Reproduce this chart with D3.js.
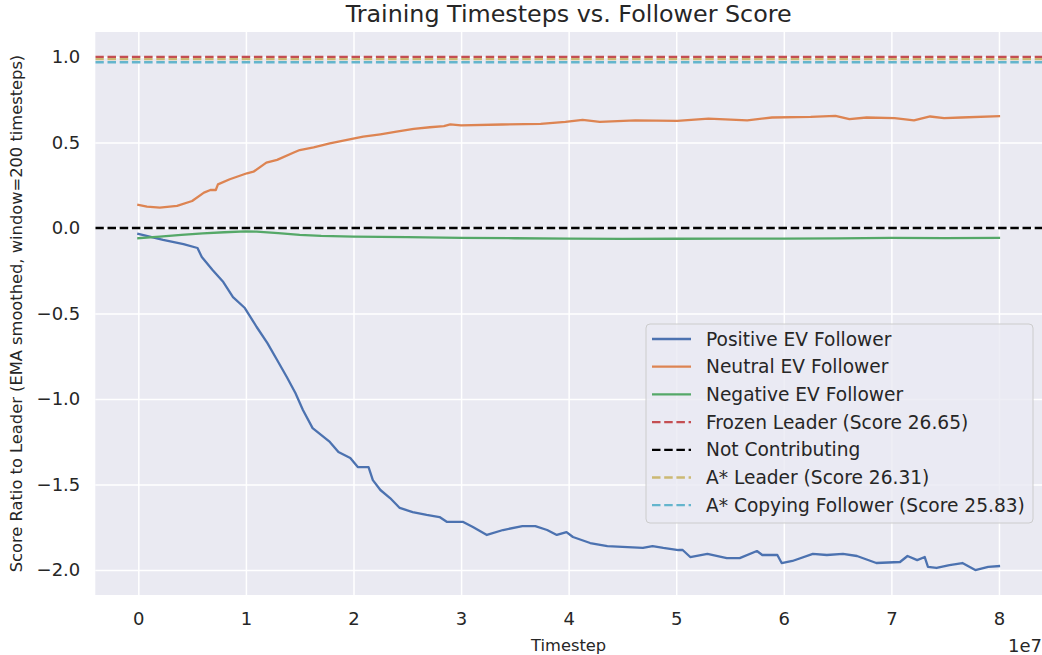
<!DOCTYPE html>
<html>
<head>
<meta charset="utf-8">
<script src="https://cdn.jsdelivr.net/npm/d3@7"></script>
<style>
  html, body { margin: 0; padding: 0; background: #ffffff; }
  svg { display: block; font-family: "DejaVu Sans", sans-serif; }
</style>
</head>
<body>
<svg id="chart" width="1042" height="655"></svg>
<script>
// ---- data (timesteps in units of 1e7) ----
const positiveT = [0.00,0.23,0.42,0.55,0.59,0.69,0.79,0.88,0.99,1.10,1.20,1.29,1.38,1.46,1.53,1.62,1.78,1.86,1.97,2.04,2.14,2.18,2.25,2.34,2.43,2.55,2.68,2.80,2.87,3.02,3.11,3.24,3.39,3.57,3.69,3.80,3.89,3.98,4.04,4.20,4.36,4.50,4.69,4.78,4.88,5.02,5.06,5.13,5.29,5.47,5.59,5.75,5.80,5.94,5.98,6.08,6.27,6.40,6.55,6.68,6.86,7.08,7.15,7.24,7.31,7.34,7.42,7.54,7.66,7.78,7.90,8.00];
const positiveV = [-0.035,-0.070,-0.094,-0.117,-0.170,-0.246,-0.316,-0.404,-0.468,-0.579,-0.673,-0.772,-0.871,-0.965,-1.064,-1.170,-1.251,-1.310,-1.345,-1.398,-1.398,-1.474,-1.532,-1.579,-1.637,-1.661,-1.678,-1.690,-1.719,-1.719,-1.749,-1.795,-1.766,-1.743,-1.743,-1.766,-1.795,-1.778,-1.807,-1.842,-1.860,-1.865,-1.871,-1.860,-1.871,-1.883,-1.883,-1.924,-1.906,-1.930,-1.930,-1.889,-1.912,-1.912,-1.959,-1.947,-1.906,-1.912,-1.906,-1.918,-1.959,-1.953,-1.918,-1.942,-1.924,-1.982,-1.988,-1.971,-1.959,-2.000,-1.982,-1.977];

const neutralT = [0.00,0.08,0.20,0.36,0.50,0.61,0.67,0.72,0.74,0.85,1.01,1.07,1.19,1.29,1.44,1.50,1.63,1.78,1.94,2.09,2.25,2.40,2.56,2.71,2.84,2.90,3.00,3.38,3.74,3.97,4.13,4.29,4.62,5.01,5.30,5.66,5.89,6.25,6.48,6.61,6.77,7.03,7.21,7.36,7.49,7.65,8.00];
const neutralV = [0.135,0.125,0.119,0.129,0.158,0.207,0.222,0.222,0.255,0.285,0.320,0.329,0.382,0.398,0.440,0.456,0.472,0.495,0.515,0.534,0.548,0.563,0.579,0.589,0.596,0.606,0.600,0.605,0.609,0.621,0.632,0.621,0.629,0.626,0.640,0.629,0.646,0.650,0.656,0.636,0.646,0.642,0.629,0.652,0.642,0.646,0.654];

const negativeT = [0.00,0.20,0.40,0.60,0.80,1.00,1.10,1.30,1.50,1.70,2.00,2.50,3.00,3.50,4.00,4.50,5.00,5.50,6.00,6.50,7.00,7.50,8.00];
const negativeV = [-0.060,-0.050,-0.040,-0.032,-0.025,-0.020,-0.021,-0.030,-0.040,-0.046,-0.050,-0.054,-0.058,-0.060,-0.062,-0.064,-0.063,-0.062,-0.062,-0.061,-0.058,-0.059,-0.058];

const seriesNames = ["Positive EV Follower","Neutral EV Follower","Negative EV Follower"];
const seriesColors = ["#4C72B0","#DD8452","#55A868"];

const refNames = ["Frozen Leader (Score 26.65)","Not Contributing","A* Leader (Score 26.31)","A* Copying Follower (Score 25.83)"];
const refValues = [1.0, 0.0, 26.31/26.65, 25.83/26.65];
const refColors = ["#C44E52","#000000","#CCB974","#64B5CD"];

const xTicks = [0,1,2,3,4,5,6,7,8];
const yTicks = [-2.0,-1.5,-1.0,-0.5,0.0,0.5,1.0];

const titleText = "Training Timesteps vs. Follower Score";
const xLabel = "Timestep";
const yLabel = "Score Ratio to Leader (EMA smoothed, window=200 timesteps)";
const xOffsetLabel = "1e7";

// ---- layout ----
const W = 1042, H = 655;
const plot = {left: 95.3, right: 1042, top: 32, bottom: 595};
const textColor = "#262626";
const lw = 2.3;
const tickFont = "18px";
const legendFont = "18.6px";

const svg = d3.select("#chart");
const x = d3.scaleLinear().domain([-0.4, 8.4]).range([plot.left, plot.right]);
const y = d3.scaleLinear().domain([-2.146, 1.146]).range([plot.bottom, plot.top]);

// background
svg.append("rect").attr("x",0).attr("y",0).attr("width",W).attr("height",H).attr("fill","#ffffff");
svg.append("rect").attr("x",plot.left).attr("y",plot.top)
  .attr("width",plot.right-plot.left).attr("height",plot.bottom-plot.top).attr("fill","#EAEAF2");

svg.append("clipPath").attr("id","clip").append("rect")
  .attr("x",plot.left).attr("y",plot.top).attr("width",plot.right-plot.left).attr("height",plot.bottom-plot.top);

// grid + tick labels
const fmtY = v => (v < 0 ? "\u2212" : "") + Math.abs(v).toFixed(1);
const xAxis = d3.axisBottom(x).tickValues(xTicks).tickFormat(d3.format("d"))
  .tickSize(-(plot.bottom-plot.top)).tickPadding(17);
const yAxis = d3.axisLeft(y).tickValues(yTicks).tickFormat(fmtY)
  .tickSize(-(plot.right-plot.left)).tickPadding(15);

const gx = svg.append("g").attr("transform",`translate(0,${plot.bottom})`).call(xAxis);
const gy = svg.append("g").attr("transform",`translate(${plot.left},0)`).call(yAxis);
[gx, gy].forEach(g => {
  g.select(".domain").remove();
  g.selectAll(".tick line").attr("stroke","#ffffff").attr("stroke-width",1.5);
  g.selectAll(".tick text").attr("fill",textColor).attr("font-size",tickFont)
    .attr("font-family","DejaVu Sans, sans-serif");
});
gx.selectAll(".tick text").attr("dy","0.71em");

// series lines
const seriesData = [
  positiveT.map((t,i)=>[t,positiveV[i]]),
  neutralT.map((t,i)=>[t,neutralV[i]]),
  negativeT.map((t,i)=>[t,negativeV[i]])
];
const line = d3.line().x(d=>x(d[0])).y(d=>y(d[1]));
const lineG = svg.append("g").attr("clip-path","url(#clip)");
seriesData.forEach((d,i) => {
  lineG.append("path").datum(d).attr("d",line).attr("fill","none")
    .attr("stroke",seriesColors[i]).attr("stroke-width",lw)
    .attr("stroke-linejoin","round").attr("stroke-linecap","square");
});

// reference lines (axhline), drawn on top
const refG = svg.append("g").attr("clip-path","url(#clip)");
refValues.forEach((v,i) => {
  refG.append("line").attr("x1",plot.left).attr("x2",plot.right)
    .attr("y1",y(v)).attr("y2",y(v))
    .attr("stroke",refColors[i]).attr("stroke-width",lw)
    .attr("stroke-dasharray","8.5,3.7");
});

// title and labels
svg.append("text").attr("x",(plot.left+plot.right)/2).attr("y",22)
  .attr("text-anchor","middle").attr("fill",textColor).attr("font-size","23.8px").text(titleText);
svg.append("text").attr("x",(plot.left+plot.right)/2).attr("y",651)
  .attr("text-anchor","middle").attr("fill",textColor).attr("font-size","16.3px").text(xLabel);
svg.append("text").attr("transform",`translate(22,${(plot.top+plot.bottom)/2}) rotate(-90)`)
  .attr("text-anchor","middle").attr("fill",textColor).attr("font-size","16.3px").text(yLabel);
svg.append("text").attr("x",plot.right).attr("y",652)
  .attr("text-anchor","end").attr("fill",textColor).attr("font-size",tickFont).text(xOffsetLabel);

// legend
const legend = {x: 646, y: 324, w: 387, h: 199, rowH: 27.7, firstRow: 339};
const lg = svg.append("g");
lg.append("rect").attr("x",legend.x).attr("y",legend.y).attr("width",legend.w).attr("height",legend.h)
  .attr("rx",4).attr("ry",4).attr("fill","rgba(234,234,242,0.8)").attr("stroke","#cccccc").attr("stroke-width",1);
const legendItems = [
  {name: seriesNames[0], color: seriesColors[0], dash: null},
  {name: seriesNames[1], color: seriesColors[1], dash: null},
  {name: seriesNames[2], color: seriesColors[2], dash: null},
  {name: refNames[0], color: refColors[0], dash: "8.5,3.7"},
  {name: refNames[1], color: refColors[1], dash: "8.5,3.7"},
  {name: refNames[2], color: refColors[2], dash: "8.5,3.7"},
  {name: refNames[3], color: refColors[3], dash: "8.5,3.7"}
];
legendItems.forEach((it,i) => {
  const cy = legend.firstRow + i*legend.rowH;
  const l = lg.append("line").attr("x1",legend.x+6).attr("x2",legend.x+45).attr("y1",cy).attr("y2",cy)
    .attr("stroke",it.color).attr("stroke-width",lw);
  if (it.dash) l.attr("stroke-dasharray",it.dash);
  lg.append("text").attr("x",legend.x+60).attr("y",cy).attr("dy","0.35em")
    .attr("fill",textColor).attr("font-size",legendFont).text(it.name);
});
</script>
</body>
</html>
